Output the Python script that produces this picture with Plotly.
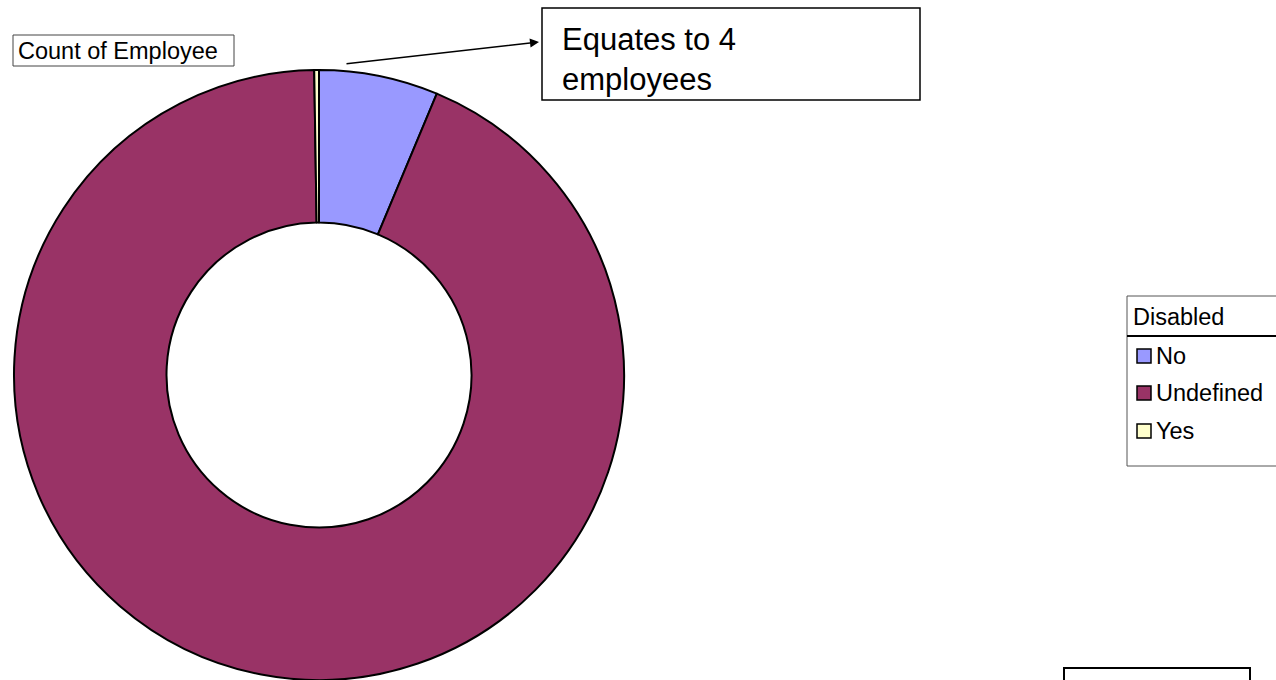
import plotly.graph_objects as go

# ---- data ----
labels = ["No", "Undefined", "Yes"]
values = [101, 1495, 4]
colors = ["#9999FF", "#993366", "#FFFFCC"]
chart_title = "Count of Employee"
legend_title = "Disabled"
note_text = "Equates to 4<br>employees"

W, H = 1276, 680
FONT = "Liberation Sans, Arial, sans-serif"


def px(x):
    return x / W


def py(y):
    return 1 - y / H


fig = go.Figure()
fig.add_trace(go.Pie(
    labels=labels,
    values=values,
    marker=dict(colors=colors, line=dict(color="black", width=2)),
    hole=0.5,
    sort=False,
    direction="clockwise",
    rotation=0,
    textinfo="none",
    hoverinfo="label+value+percent",
    showlegend=False,
    domain=dict(x=[px(14), px(624)], y=[0, py(70)]),
))

shapes = []
annotations = []

# title box
shapes.append(dict(type="rect", xref="paper", yref="paper",
                   x0=px(13), x1=px(234), y0=py(66), y1=py(35),
                   line=dict(color="#444444", width=1), fillcolor="white"))
annotations.append(dict(text=chart_title, xref="paper", yref="paper",
                        x=px(16), y=py(51), xanchor="left", yanchor="middle",
                        showarrow=False, font=dict(family=FONT, size=23.5, color="black")))

# note box
shapes.append(dict(type="rect", xref="paper", yref="paper",
                   x0=px(542), x1=px(920), y0=py(100), y1=py(8),
                   line=dict(color="black", width=1.5), fillcolor="white"))
annotations.append(dict(text=note_text, xref="paper", yref="paper",
                        x=px(560), y=py(59), xanchor="left", yanchor="middle", align="left",
                        showarrow=False, font=dict(family=FONT, size=31, color="black")))

# arrow
annotations.append(dict(text="", xref="paper", yref="paper",
                        x=px(539), y=py(42), ax=345 - 539, ay=64 - 42,
                        axref="pixel", ayref="pixel",
                        showarrow=True, arrowhead=2, arrowsize=1.2, arrowwidth=1.5,
                        arrowcolor="black"))

# legend (manual)
shapes.append(dict(type="rect", xref="paper", yref="paper",
                   x0=px(1127), x1=px(1290), y0=py(466), y1=py(296),
                   line=dict(color="#555555", width=1), fillcolor="white"))
shapes.append(dict(type="line", xref="paper", yref="paper",
                   x0=px(1127), x1=px(1290), y0=py(336), y1=py(336),
                   line=dict(color="black", width=2)))
annotations.append(dict(text=legend_title, xref="paper", yref="paper",
                        x=px(1131), y=py(317), xanchor="left", yanchor="middle",
                        showarrow=False, font=dict(family=FONT, size=23.5, color="black")))
row_y = [356, 393, 431]
for lab, col, yy in zip(labels, colors, row_y):
    shapes.append(dict(type="rect", xref="paper", yref="paper",
                       x0=px(1137), x1=px(1151), y0=py(yy + 7), y1=py(yy - 7),
                       line=dict(color="black", width=1.5), fillcolor=col))
    annotations.append(dict(text=lab, xref="paper", yref="paper",
                            x=px(1154), y=py(yy), xanchor="left", yanchor="middle",
                            showarrow=False, font=dict(family=FONT, size=23.5, color="black")))

# bottom-right box
shapes.append(dict(type="rect", xref="paper", yref="paper",
                   x0=px(1064), x1=px(1250), y0=py(700), y1=py(668),
                   line=dict(color="black", width=2), fillcolor="white"))

fig.update_layout(
    width=W, height=H,
    margin=dict(l=0, r=0, t=0, b=0),
    paper_bgcolor="white", plot_bgcolor="white",
    shapes=shapes, annotations=annotations,
    showlegend=False,
    font=dict(family=FONT),
)

fig.write_html("out.html")
